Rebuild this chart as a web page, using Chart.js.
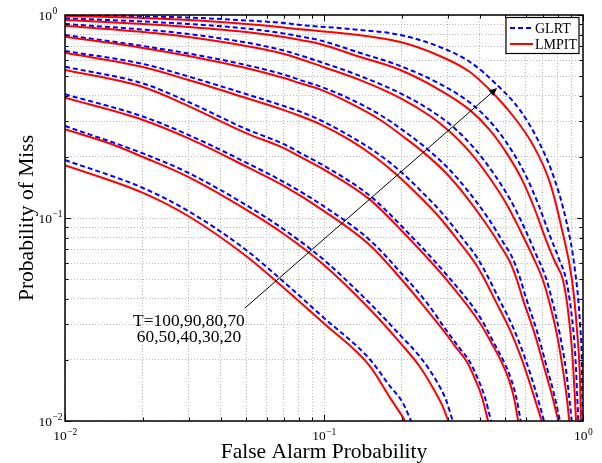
<!DOCTYPE html>
<html>
<head>
<meta charset="utf-8">
<script src="https://cdn.jsdelivr.net/npm/chart.js@4.4.1/dist/chart.umd.min.js"></script>
<style>
  html, body { margin: 0; padding: 0; background: #fff; }
  #wrap { width: 602px; height: 463px; position: relative; }
</style>
</head>
<body>
<div id="wrap"><canvas id="roc" width="602" height="463"></canvas></div>
<script>
var SERIF = '"Liberation Serif", "Times New Roman", serif';

// axis ticks (log-log, 1e-2 .. 1e0)
var decadeTicks = [0.01, 0.1, 1];
var decadeExponents = ['\u22122', '\u22121', '0'];
var gridValues = [0.01, 0.02, 0.03, 0.04, 0.05, 0.06, 0.07, 0.08, 0.09,
  0.1, 0.2, 0.3, 0.4, 0.5, 0.6, 0.7, 0.8, 0.9, 1];

var sampleSizes = [100, 90, 80, 70, 60, 50, 40, 30, 20];

// [false alarm, miss]
var glrtT100 = [[0.01, 0.193], [0.02, 0.1406], [0.03, 0.108], [0.05, 0.0696], [0.07, 0.0484], [0.1, 0.0322],
  [0.15, 0.0202], [0.18, 0.0148], [0.2, 0.0125], [0.217, 0.01]];
var lmpitT100 = [[0.01, 0.182], [0.02, 0.133], [0.03, 0.102], [0.05, 0.065], [0.07, 0.0452], [0.1, 0.0302],
  [0.15, 0.0187], [0.18, 0.013], [0.2, 0.0106], [0.2055, 0.01]];

var glrtT90 = [[0.01, 0.284], [0.02, 0.208], [0.03, 0.1667], [0.05, 0.1159], [0.07, 0.0878], [0.1, 0.0621],
  [0.15, 0.0381], [0.2, 0.0259], [0.2348, 0.0207], [0.2706, 0.0159], [0.2958, 0.0127], [0.314, 0.01]];
var lmpitT90 = [[0.01, 0.2735], [0.015, 0.232], [0.02, 0.1997], [0.03, 0.159], [0.05, 0.11], [0.07, 0.0834],
  [0.1, 0.0587], [0.15, 0.0356], [0.2, 0.0237], [0.2348, 0.01845], [0.2635, 0.01454], [0.2855, 0.012], [0.302, 0.01]];

var glrtT80 = [[0.01, 0.407], [0.02, 0.316], [0.03, 0.2564], [0.05, 0.1876], [0.07, 0.1504], [0.1, 0.114],
  [0.15, 0.078], [0.2, 0.053], [0.25, 0.0381], [0.296, 0.0281], [0.329, 0.0234], [0.366, 0.0195],
  [0.393, 0.0161], [0.418, 0.0131], [0.4416, 0.01]];
var lmpitT80 = [[0.01, 0.391], [0.02, 0.304], [0.03, 0.2465], [0.05, 0.1794], [0.07, 0.1438], [0.1, 0.1082],
  [0.15, 0.0736], [0.2, 0.0495], [0.25, 0.0352], [0.288, 0.0281], [0.3205, 0.0234], [0.3566, 0.0195],
  [0.3828, 0.0161], [0.4074, 0.0131], [0.43, 0.01]];

var glrtT70 = [[0.01, 0.556], [0.02, 0.46], [0.03, 0.3727], [0.05, 0.2744], [0.07, 0.231], [0.081, 0.209],
  [0.1, 0.181], [0.15, 0.129], [0.2, 0.0908], [0.3, 0.0518], [0.4, 0.0325], [0.455, 0.02395],
  [0.4975, 0.0193], [0.529, 0.0159], [0.553, 0.013], [0.575, 0.01]];
var lmpitT70 = [[0.01, 0.536], [0.02, 0.442], [0.03, 0.356], [0.05, 0.262], [0.07, 0.221], [0.081, 0.2],
  [0.1, 0.173], [0.15, 0.1235], [0.2, 0.0863], [0.3, 0.049], [0.4, 0.0304], [0.4454, 0.02395],
  [0.4868, 0.0193], [0.518, 0.0159], [0.5415, 0.013], [0.562, 0.01]];

var glrtT60 = [[0.01, 0.665], [0.02, 0.574], [0.03, 0.4977], [0.05, 0.408], [0.07, 0.356], [0.081, 0.334],
  [0.0965, 0.3039], [0.126, 0.2535], [0.1602, 0.209], [0.1966, 0.1704], [0.2411, 0.1328], [0.288, 0.1046],
  [0.344, 0.0788], [0.3932, 0.0628], [0.4298, 0.0512], [0.4697, 0.0408], [0.5366, 0.029], [0.5972, 0.0204],
  [0.6526, 0.0144], [0.707, 0.01]];
var lmpitT60 = [[0.01, 0.652], [0.02, 0.554], [0.03, 0.478], [0.05, 0.39], [0.07, 0.34], [0.081, 0.318],
  [0.0965, 0.29], [0.126, 0.242], [0.1574, 0.1998], [0.1914, 0.1628], [0.2348, 0.1269], [0.2805, 0.1],
  [0.335, 0.0753], [0.383, 0.06], [0.418, 0.0495], [0.457, 0.0395], [0.5225, 0.0281], [0.5815, 0.02],
  [0.6355, 0.0142], [0.693, 0.01]];

var glrtT50 = [[0.01, 0.797], [0.02, 0.7035], [0.03, 0.646], [0.05, 0.567], [0.07, 0.509], [0.081, 0.478],
  [0.0965, 0.445], [0.126, 0.386], [0.1675, 0.318], [0.211, 0.2594], [0.2476, 0.2212], [0.3011, 0.1763],
  [0.3597, 0.1358], [0.4298, 0.1], [0.491, 0.0762], [0.5366, 0.0628], [0.5713, 0.0506], [0.6026, 0.0404],
  [0.6674, 0.0271], [0.726, 0.01825], [0.7727, 0.0136], [0.815, 0.01]];
var lmpitT50 = [[0.01, 0.782], [0.02, 0.688], [0.03, 0.628], [0.05, 0.548], [0.07, 0.489], [0.081, 0.461],
  [0.0965, 0.43], [0.126, 0.368], [0.165, 0.304], [0.2055, 0.248], [0.2411, 0.2114], [0.2933, 0.1685],
  [0.35, 0.1298], [0.418, 0.0956], [0.478, 0.0736], [0.5225, 0.0607], [0.556, 0.0495], [0.587, 0.0395],
  [0.653, 0.0265], [0.713, 0.0178], [0.759, 0.0134], [0.803, 0.01]];

var glrtT40 = [[0.01, 0.903], [0.02, 0.848], [0.03, 0.806], [0.05, 0.732], [0.07, 0.668], [0.1, 0.579],
  [0.138, 0.5006], [0.2, 0.408], [0.2635, 0.333], [0.312, 0.284], [0.3796, 0.2212],
  [0.4533, 0.1647], [0.527, 0.1213], [0.592, 0.0903], [0.6526, 0.068], [0.7196, 0.0506], [0.766, 0.0377],
  [0.815, 0.0265], [0.86, 0.0178], [0.887, 0.0127], [0.9046, 0.01]];
var lmpitT40 = [[0.01, 0.886], [0.02, 0.825], [0.03, 0.779], [0.05, 0.7035], [0.07, 0.643], [0.1, 0.553],
  [0.138, 0.478], [0.197, 0.39], [0.257, 0.318], [0.301, 0.271], [0.366, 0.211],
  [0.437, 0.157], [0.509, 0.116], [0.571, 0.0873], [0.636, 0.0657], [0.7, 0.0495], [0.746, 0.0373],
  [0.794, 0.0265], [0.837, 0.0178], [0.868, 0.0127], [0.885, 0.01]];

var glrtT30 = [[0.01, 0.963], [0.02, 0.929], [0.03, 0.903], [0.05, 0.858], [0.07, 0.811], [0.081, 0.784],
  [0.0965, 0.75], [0.138, 0.65], [0.197, 0.561], [0.2855, 0.452], [0.376, 0.36], [0.4533, 0.284],
  [0.532, 0.2138], [0.6026, 0.161], [0.676, 0.1146], [0.746, 0.0815], [0.808, 0.0628], [0.86, 0.05],
  [0.899, 0.0352], [0.931, 0.0224], [0.948, 0.0142], [0.959, 0.01]];
var lmpitT30 = [[0.01, 0.945], [0.02, 0.903], [0.03, 0.873], [0.05, 0.825], [0.07, 0.779], [0.081, 0.753],
  [0.0965, 0.72], [0.138, 0.621], [0.197, 0.536], [0.28, 0.427], [0.366, 0.34], [0.437, 0.271],
  [0.513, 0.204], [0.582, 0.154], [0.653, 0.1095], [0.72, 0.0779], [0.78, 0.0607], [0.837, 0.0495],
  [0.875, 0.0352], [0.907, 0.0224], [0.927, 0.0142], [0.94, 0.01]];

var glrtT20 = [[0.01, 0.995], [0.02, 0.983], [0.03, 0.972], [0.05, 0.94], [0.07, 0.913], [0.081, 0.893],
  [0.126, 0.853], [0.197, 0.797], [0.28, 0.696], [0.366, 0.587], [0.466, 0.452], [0.571, 0.34],
  [0.67, 0.242], [0.766, 0.163], [0.86, 0.0977], [0.931, 0.0554], [0.974, 0.0297], [0.991, 0.0169], [0.9945, 0.01]];
var lmpitT20 = [[0.01, 0.989], [0.02, 0.967], [0.03, 0.945], [0.05, 0.903], [0.07, 0.868], [0.081, 0.85],
  [0.126, 0.806], [0.197, 0.736], [0.28, 0.628], [0.366, 0.524], [0.437, 0.427], [0.537, 0.318],
  [0.641, 0.229], [0.746, 0.149], [0.83, 0.0873], [0.907, 0.0495], [0.948, 0.0281], [0.974, 0.0159], [0.982, 0.01]];

var glrtCurves = [glrtT100, glrtT90, glrtT80, glrtT70, glrtT60, glrtT50, glrtT40, glrtT30, glrtT20];
var lmpitCurves = [lmpitT100, lmpitT90, lmpitT80, lmpitT70, lmpitT60, lmpitT50, lmpitT40, lmpitT30, lmpitT20];

// annotation (data coords)
var arrowTail = [0.0495, 0.036];
var arrowHead = [0.466, 0.437];
var annotationLines = ['T=100,90,80,70', '60,50,40,30,20'];
var annotationAt = [0.0301, 0.0294];

var GLRT_STYLE = { color: '#0000ff', width: 2, dash: [5, 3] };
var LMPIT_STYLE = { color: '#ff0000', width: 2, dash: [] };

function toPoints(pairs) {
  return pairs.map(function (p) { return { x: p[0], y: p[1] }; });
}

function curveDataset(label, pairs, style, order) {
  return {
    label: label,
    data: toPoints(pairs),
    borderColor: style.color,
    borderWidth: style.width,
    borderDash: style.dash,
    pointRadius: 0,
    pointHoverRadius: 0,
    fill: false,
    cubicInterpolationMode: 'monotone',
    order: order,
  };
}

var datasets = [];
for (var i = 0; i < sampleSizes.length; i += 1) {
  datasets.push(curveDataset('GLRT T=' + sampleSizes[i], glrtCurves[i], GLRT_STYLE, 1));
  datasets.push(curveDataset('LMPIT T=' + sampleSizes[i], lmpitCurves[i], LMPIT_STYLE, 0));
}

function drawPower(ctx, exponent, x, y, align) {
  ctx.font = '13.5px ' + SERIF;
  var baseW = ctx.measureText('10').width;
  ctx.font = '9.5px ' + SERIF;
  var expW = ctx.measureText(exponent).width;
  var left = align === 'center' ? x - (baseW + expW) / 2 : x;
  ctx.textAlign = 'left';
  ctx.textBaseline = 'alphabetic';
  ctx.font = '13.5px ' + SERIF;
  ctx.fillText('10', left, y);
  ctx.font = '9.5px ' + SERIF;
  ctx.fillText(exponent, left + baseW + 0.5, y - 5.5);
}

function drawLegendRow(ctx, style, text, y) {
  ctx.save();
  ctx.strokeStyle = style.color;
  ctx.lineWidth = style.width;
  ctx.setLineDash(style.dash);
  ctx.beginPath();
  ctx.moveTo(510, y);
  ctx.lineTo(533, y);
  ctx.stroke();
  ctx.restore();
  ctx.fillStyle = '#000';
  ctx.font = '14px ' + SERIF;
  ctx.textAlign = 'left';
  ctx.textBaseline = 'alphabetic';
  ctx.fillText(text, 535, y + 4.6);
}

var whiteBackground = {
  id: 'whiteBackground',
  beforeDraw: function (chart) {
    var ctx = chart.ctx;
    ctx.save();
    ctx.fillStyle = '#fff';
    ctx.fillRect(0, 0, chart.width, chart.height);
    ctx.restore();
  },
};

var decorations = {
  id: 'decorations',
  afterDatasetsDraw: function (chart) {
    var ctx = chart.ctx;
    var area = chart.chartArea;
    var xs = chart.scales.x;
    var ys = chart.scales.y;
    ctx.save();

    // inward tick marks on all four sides
    ctx.strokeStyle = '#000';
    ctx.lineWidth = 1;
    ctx.beginPath();
    gridValues.forEach(function (v) {
      var len = decadeTicks.indexOf(v) >= 0 ? 6 : 3.5;
      var px = Math.round(xs.getPixelForValue(v)) + 0.5;
      ctx.moveTo(px, area.bottom); ctx.lineTo(px, area.bottom - len);
      ctx.moveTo(px, area.top); ctx.lineTo(px, area.top + len);
      var py = Math.round(ys.getPixelForValue(v)) + 0.5;
      ctx.moveTo(area.left, py); ctx.lineTo(area.left + len, py);
      ctx.moveTo(area.right, py); ctx.lineTo(area.right - len, py);
    });
    ctx.stroke();

    // box
    ctx.lineWidth = 1.5;
    ctx.strokeRect(area.left, area.top, area.right - area.left, area.bottom - area.top);

    // tick labels
    ctx.fillStyle = '#000';
    decadeTicks.forEach(function (v, k) {
      drawPower(ctx, decadeExponents[k], xs.getPixelForValue(v), area.bottom + 19, 'center');
      drawPower(ctx, decadeExponents[k], 38.5, ys.getPixelForValue(v) + 4.5, 'left');
    });

    // axis titles
    ctx.font = '21.5px ' + SERIF;
    ctx.textAlign = 'center';
    ctx.textBaseline = 'alphabetic';
    ctx.fillText('False Alarm Probability', (area.left + area.right) / 2, 458);
    ctx.save();
    ctx.translate(32.5, (area.top + area.bottom) / 2);
    ctx.rotate(-Math.PI / 2);
    ctx.fillText('Probability of Miss', 0, 0);
    ctx.restore();

    // arrow
    var x0 = xs.getPixelForValue(arrowTail[0]);
    var y0 = ys.getPixelForValue(arrowTail[1]);
    var x1 = xs.getPixelForValue(arrowHead[0]);
    var y1 = ys.getPixelForValue(arrowHead[1]);
    var ang = Math.atan2(y1 - y0, x1 - x0);
    ctx.strokeStyle = '#000';
    ctx.lineWidth = 1;
    ctx.beginPath();
    ctx.moveTo(x0, y0);
    ctx.lineTo(x1 - 6 * Math.cos(ang), y1 - 6 * Math.sin(ang));
    ctx.stroke();
    ctx.beginPath();
    ctx.moveTo(x1, y1);
    ctx.lineTo(x1 - 8 * Math.cos(ang) + 3.5 * Math.sin(ang), y1 - 8 * Math.sin(ang) - 3.5 * Math.cos(ang));
    ctx.lineTo(x1 - 8 * Math.cos(ang) - 3.5 * Math.sin(ang), y1 - 8 * Math.sin(ang) + 3.5 * Math.cos(ang));
    ctx.closePath();
    ctx.fillStyle = '#000';
    ctx.fill();

    // annotation text
    var tx = xs.getPixelForValue(annotationAt[0]);
    var ty = ys.getPixelForValue(annotationAt[1]);
    ctx.font = '17.4px ' + SERIF;
    ctx.textAlign = 'center';
    annotationLines.forEach(function (line, k) {
      ctx.fillText(line, tx, ty + k * 16);
    });

    // legend
    ctx.fillStyle = '#fff';
    ctx.fillRect(506, 17.5, 73, 36);
    ctx.strokeStyle = '#000';
    ctx.lineWidth = 1.2;
    ctx.strokeRect(506, 17.5, 73, 36);
    drawLegendRow(ctx, GLRT_STYLE, 'GLRT', 28);
    drawLegendRow(ctx, LMPIT_STYLE, 'LMPIT', 44);

    ctx.restore();
  },
};

function logAxis(position) {
  return {
    type: 'logarithmic',
    position: position,
    min: 0.01,
    max: 1,
    afterBuildTicks: function (scale) {
      scale.ticks = gridValues.map(function (v) { return { value: v }; });
    },
    afterFit: function (scale) {
      if (position === 'left') scale.width = 0;
      else scale.height = 0;
    },
    grid: { color: '#b8b8b8', lineWidth: 1, drawTicks: false },
    border: { display: false, dash: [1, 2] },
    ticks: { display: false, autoSkip: false },
  };
}

new Chart(document.getElementById('roc'), {
  type: 'line',
  data: { datasets: datasets },
  options: {
    responsive: false,
    devicePixelRatio: 1,
    animation: false,
    parsing: false,
    layout: { autoPadding: false, padding: { left: 65, right: 19, top: 15, bottom: 42 } },
    plugins: { legend: { display: false }, tooltip: { enabled: false } },
    scales: { x: logAxis('bottom'), y: logAxis('left') },
  },
  plugins: [whiteBackground, decorations],
});
</script>
</body>
</html>
